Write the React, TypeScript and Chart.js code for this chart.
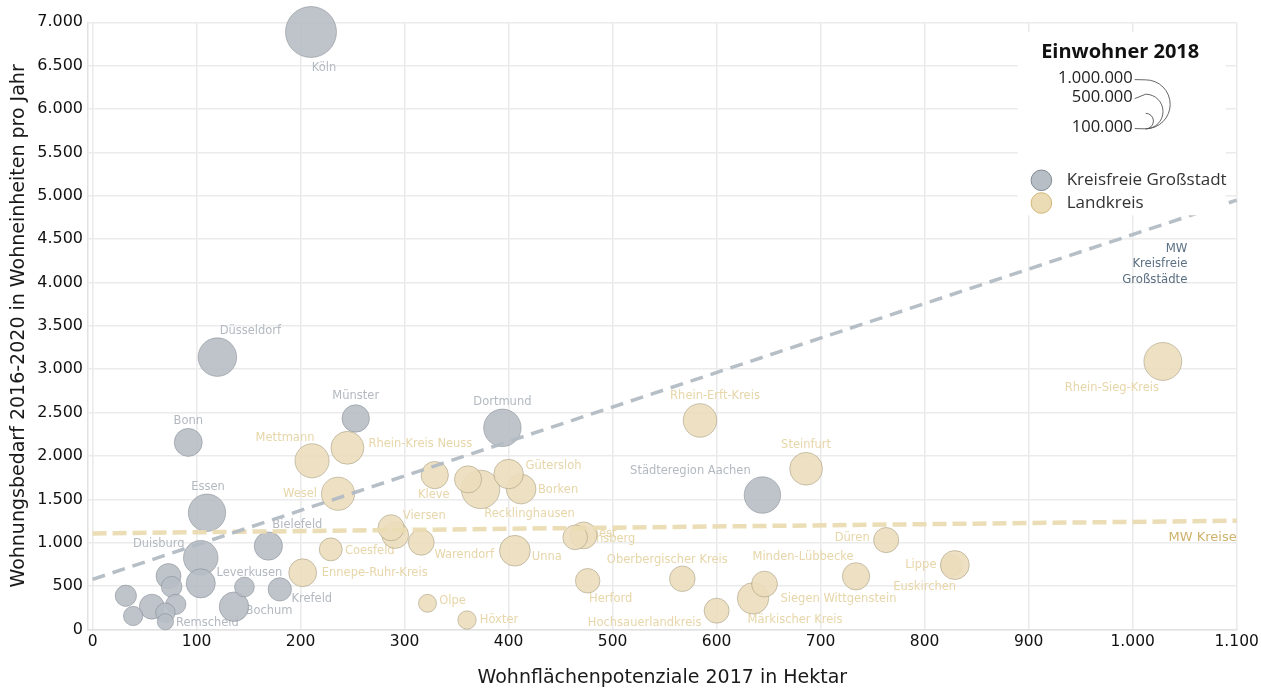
import React, { useEffect, useRef } from 'react';
import { Chart, registerables } from 'chart.js';

Chart.register(...registerables);

// ---------- data ----------
const stadtNames = [
  'Köln', 'Düsseldorf', 'Dortmund', 'Essen', 'Städteregion Aachen', 'Duisburg', 'Bochum', 'Wuppertal',
  'Bielefeld', 'Bonn', 'Münster', 'Mönchengladbach', 'Gelsenkirchen', 'Krefeld', 'Hagen', 'Hamm',
  'Mülheim', 'Leverkusen', 'Solingen', 'Herne', 'Remscheid',
];
const stadtFlaeche = [210, 120, 394, 110, 644, 104, 136, 104, 169, 92, 253, 73, 57, 180, 32, 76, 80, 146, 70, 39, 70];
const stadtBedarf = [6888, 3140, 2325, 1346, 1550, 827, 263, 532, 962, 2157, 2433, 616, 263, 463, 389, 493, 290, 490, 194, 156, 90];
const stadtEinwohner = [
  1085664, 619294, 587010, 583109, 555465, 498686, 364628, 354382, 333786, 327258, 314319, 261454,
  260654, 227417, 188814, 179111, 170880, 163838, 159360, 156374, 110994,
];

const kreisNames = [
  'Recklinghausen', 'Rhein-Sieg-Kreis', 'Mettmann', 'Rhein-Erft-Kreis', 'Wesel', 'Rhein-Kreis Neuss',
  'Steinfurt', 'Märkischer Kreis', 'Unna', 'Borken', 'Gütersloh', 'Euskirchen', 'Lippe', 'Ennepe-Ruhr-Kreis',
  'Kleve', 'Minden-Lübbecke', 'Paderborn', 'Soest', 'Viersen', 'Rheinisch-Bergischer Kreis',
  'Siegen Wittgenstein', 'Warendorf', 'Oberbergischer Kreis', 'Düren', 'Hochsauerlandkreis', 'Heinsberg',
  'Herford', 'Coesfeld', 'Höxter', 'Olpe',
];
const kreisFlaeche = [373, 1029, 211, 584, 236, 245, 686, 635, 406, 412, 400, 826, 829, 202, 329, 734, 361, 472, 291, 287, 646, 316, 567, 763, 600, 464, 476, 229, 360, 322];
const kreisBedarf = [1615, 3090, 1945, 2410, 1565, 2095, 1853, 359, 908, 1619, 1792, 735, 743, 654, 1780, 613, 1731, 1085, 1089, 1173, 524, 1005, 585, 1031, 217, 1062, 562, 924, 109, 302];
const kreisEinwohner = [
  615261, 599780, 485684, 470089, 459809, 451730, 447614, 412120, 394782, 370676, 364083, 192840, 348391,
  324296, 310974, 310710, 306890, 301902, 298935, 283455, 278210, 277783, 272471, 263722, 260475, 254322,
  250783, 219929, 140667, 134775,
];

// mean lines (value at x = 0 and x = 1100)
const trendX = [0, 1100];
const trendStadt = [578, 4950];
const trendKreis = [1108, 1254];

const xTicks = [0, 100, 200, 300, 400, 500, 600, 700, 800, 900, 1000, 1100];
const yTicks = [0, 500, 1000, 1500, 2000, 2500, 3000, 3500, 4000, 4500, 5000, 5500, 6000, 6500, 7000];
const legendSizes = [1000000, 500000, 100000];

// ---------- layout / style ----------
const R_MAX = 25.5;
const POP_MAX = Math.max(...stadtEinwohner, ...kreisEinwohner);
const radius = (pop: number) => R_MAX * Math.sqrt(pop / POP_MAX);

const GRAY_FILL = 'rgba(184,190,197,0.9)';
const GRAY_BORDER = 'rgba(120,128,136,0.6)';
const BEIGE_FILL = 'rgba(236,222,188,0.9)';
const BEIGE_BORDER = 'rgba(150,140,110,0.6)';
const GRAY_TEXT = '#b3b9c0';
const BEIGE_TEXT = '#e7d6a9';

const labelOffsets: Record<string, [number, number]> = {
  'Köln': [13, 36],
  'Düsseldorf': [33, -26],
  'Münster': [0, -22],
  'Bonn': [0, -21],
  'Dortmund': [0, -26],
  'Essen': [1, -26],
  'Städteregion Aachen': [-72, -24],
  'Bielefeld': [29, -21],
  'Duisburg': [-42, -14],
  'Leverkusen': [5, -14],
  'Bochum': [35, 4],
  'Krefeld': [32, 10],
  'Remscheid': [42, 1],
  'Mettmann': [-27, -23],
  'Rhein-Kreis Neuss': [73, -4],
  'Wesel': [-38, 0],
  'Kleve': [-1, 20],
  'Gütersloh': [45, -8],
  'Borken': [37, 1],
  'Recklinghausen': [49, 25],
  'Viersen': [29, -19],
  'Coesfeld': [39, 2],
  'Ennepe-Ruhr-Kreis': [72, 0],
  'Warendorf': [43, 13],
  'Unna': [32, 6],
  'Olpe': [25, -2],
  'Höxter': [32, 0],
  'Herford': [23, 18],
  'Hochsauerlandkreis': [-72, 12],
  'Oberbergischer Kreis': [-15, -19],
  'Rhein-Erft-Kreis': [15, -24],
  'Steinfurt': [0, -24],
  'Minden-Lübbecke': [-53, -19],
  'Siegen Wittgenstein': [74, 15],
  'Märkischer Kreis': [42, 22],
  'Düren': [-34, -2],
  'Lippe': [-34, 0],
  'Euskirchen': [-27, 21],
  'Rhein-Sieg-Kreis': [-51, 27],
  'Soest': [17, -1],
  'Heinsberg': [31, 2],
};

const mwStadtAnchor = { x: 1052.6, y: 4396 };
const mwKreisAnchor = { x: 1100, y: 1054 };

const fmt = (v: number) => String(v).replace(/\B(?=(\d{3})+(?!\d))/g, '.');

const labelPlugin = {
  id: 'bubbleLabels',
  beforeDatasetsDraw(chart: any) {
    const ctx = chart.ctx;
    ctx.save();
    ctx.font = '11.5px "DejaVu Sans", sans-serif';
    ctx.textAlign = 'center';
    ctx.textBaseline = 'middle';
    const groups: [number, string[], string][] = [
      [0, stadtNames, GRAY_TEXT],
      [1, kreisNames, BEIGE_TEXT],
    ];
    groups.forEach(([di, names, color]) => {
      const meta = chart.getDatasetMeta(di);
      meta.data.forEach((el: any, i: number) => {
        const off = labelOffsets[names[i]];
        if (!off) return;
        ctx.fillStyle = color;
        ctx.fillText(names[i], el.x + off[0], el.y + off[1]);
      });
    });
    ctx.restore();
  },
};

const legendPlugin = {
  id: 'customLegend',
  afterDatasetsDraw(chart: any) {
    const ctx = chart.ctx;
    const { right, top } = chart.chartArea;
    const xs = chart.scales.x;
    const ys = chart.scales.y;
    ctx.save();

    // line annotations
    ctx.textAlign = 'right';
    ctx.textBaseline = 'middle';
    ctx.fillStyle = '#5b6f82';
    ctx.font = '13px "DejaVu Sans Condensed", "DejaVu Sans", sans-serif';
    const sx = xs.getPixelForValue(mwStadtAnchor.x);
    const sy = ys.getPixelForValue(mwStadtAnchor.y);
    ['MW', 'Kreisfreie', 'Großstädte'].forEach((t, i) => ctx.fillText(t, sx, sy + i * 15.7));
    ctx.fillStyle = '#cfb36c';
    ctx.font = '13px "DejaVu Sans", sans-serif';
    ctx.fillText('MW Kreise', xs.getPixelForValue(mwKreisAnchor.x), ys.getPixelForValue(mwKreisAnchor.y));

    // legend box
    ctx.fillStyle = '#ffffff';
    ctx.fillRect(right - 219, top + 10, 208, 183);

    ctx.fillStyle = '#111';
    ctx.textAlign = 'center';
    ctx.font = 'bold 20px "Open Sans", sans-serif';
    ctx.fillText('Einwohner 2018', right - 116.5, top + 30);

    ctx.font = '16.5px "Open Sans", sans-serif';
    ctx.textAlign = 'right';
    ctx.fillStyle = '#222';
    const labelYs = [top + 56.3, top + 75.3, top + 105.3];
    const cx = right - 91;
    const by = top + 106.5;
    ctx.strokeStyle = '#555';
    ctx.lineWidth = 0.9;
    legendSizes.forEach((p, i) => {
      ctx.fillText(fmt(p), right - 104, labelYs[i]);
      const r = radius(p);
      ctx.beginPath();
      ctx.arc(cx, by - r, r, -Math.PI / 2, Math.PI / 2);
      ctx.stroke();
      ctx.beginPath();
      ctx.moveTo(right - 102, labelYs[i] + 1);
      if (i < 2) ctx.lineTo(cx, by - 2 * r);
      else ctx.lineTo(cx, by);
      ctx.stroke();
    });

    // colour legend
    const items: [string, string, string][] = [
      ['Kreisfreie Großstadt', 'rgb(184,190,197)', '#7f8a95'],
      ['Landkreis', 'rgb(236,220,181)', '#d2b778'],
    ];
    ctx.textAlign = 'left';
    ctx.font = '17px "Open Sans", sans-serif';
    items.forEach(([t, fill, stroke], i) => {
      const y = top + 158 + i * 22.7;
      ctx.beginPath();
      ctx.arc(right - 195.3, y, 10.3, 0, Math.PI * 2);
      ctx.fillStyle = fill;
      ctx.fill();
      ctx.strokeStyle = stroke;
      ctx.lineWidth = 1;
      ctx.stroke();
      ctx.fillStyle = '#333';
      ctx.fillText(t, right - 170, y);
    });
    ctx.restore();
  },
};

export default function App() {
  const ref = useRef<HTMLCanvasElement>(null);

  useEffect(() => {
    if (!ref.current) return;
    const tickFontY = { family: '"DejaVu Sans", sans-serif', size: 16 };
    const tickFontX = { family: '"DejaVu Sans", sans-serif', size: 15.5 };
    const titleFont = { family: '"DejaVu Sans", sans-serif', size: 19 };
    const chart = new Chart(ref.current, {
      type: 'bubble',
      data: {
        datasets: [
          {
            type: 'bubble',
            label: 'Kreisfreie Großstadt',
            data: stadtFlaeche.map((x, i) => ({ x, y: stadtBedarf[i], r: radius(stadtEinwohner[i]) })),
            backgroundColor: GRAY_FILL,
            borderColor: GRAY_BORDER,
            borderWidth: 0.8,
            hoverRadius: 0,
            clip: false,
            order: 2,
          } as any,
          {
            type: 'bubble',
            label: 'Landkreis',
            data: kreisFlaeche.map((x, i) => ({ x, y: kreisBedarf[i], r: radius(kreisEinwohner[i]) })),
            backgroundColor: BEIGE_FILL,
            borderColor: BEIGE_BORDER,
            borderWidth: 0.8,
            hoverRadius: 0,
            clip: false,
            order: 1,
          } as any,
          {
            type: 'line',
            label: 'MW Kreisfreie Großstädte',
            data: trendX.map((x, i) => ({ x, y: trendStadt[i] })),
            borderColor: 'rgba(178,186,195,0.95)',
            borderWidth: 3.5,
            borderDash: [13, 8],
            pointRadius: 0,
            fill: false,
            clip: false,
            order: 0,
          } as any,
          {
            type: 'line',
            label: 'MW Kreise',
            data: trendX.map((x, i) => ({ x, y: trendKreis[i] })),
            borderColor: 'rgba(234,219,178,0.95)',
            borderWidth: 4.5,
            borderDash: [14, 6],
            pointRadius: 0,
            fill: false,
            clip: false,
            order: 0,
          } as any,
        ],
      },
      options: {
        animation: false,
        responsive: true,
        maintainAspectRatio: false,
        events: [],
        layout: { padding: 0 },
        plugins: { legend: { display: false }, tooltip: { enabled: false } },
        scales: {
          x: {
            type: 'linear',
            min: -4.4,
            max: 1100,
            afterBuildTicks: (s: any) => { s.ticks = xTicks.map((v) => ({ value: v })); },
            afterFit: (s: any) => { s.height = 61.5; },
            ticks: {
              callback: (v: any) => fmt(Number(v)),
              font: tickFontX,
              color: '#111',
              padding: 3,
              maxRotation: 0,
              autoSkip: false,
            },
            grid: { color: '#ebebeb', lineWidth: 1.6, drawTicks: false },
            border: { display: true, color: '#e2e2e2', width: 1.5 },
            title: {
              display: true,
              text: 'Wohnflächenpotenziale 2017 in Hektar',
              font: titleFont,
              color: '#1a1a1a',
              padding: { top: 0, bottom: 1.6 },
            },
          },
          y: {
            type: 'linear',
            min: 0,
            max: 7000,
            afterBuildTicks: (s: any) => { s.ticks = yTicks.map((v) => ({ value: v })); },
            afterFit: (s: any) => { s.width = 88; },
            ticks: {
              callback: (v: any) => fmt(Number(v)),
              font: tickFontY,
              color: '#111',
              padding: 5,
              autoSkip: false,
            },
            grid: { color: '#ebebeb', lineWidth: 1.6, drawTicks: false },
            border: { display: true, color: '#e2e2e2', width: 1.5 },
            title: {
              display: true,
              text: 'Wohnungsbedarf 2016-2020 in Wohneinheiten pro Jahr',
              font: titleFont,
              color: '#1a1a1a',
              padding: { top: 8, bottom: 0 },
            },
          },
        },
      } as any,
      plugins: [labelPlugin, legendPlugin],
    });
    return () => chart.destroy();
  }, []);

  return (
    <div style={{ position: 'fixed', left: 0, top: -4, width: 1263, height: 695, background: '#fff' }}>
      <canvas ref={ref} />
    </div>
  );
}
